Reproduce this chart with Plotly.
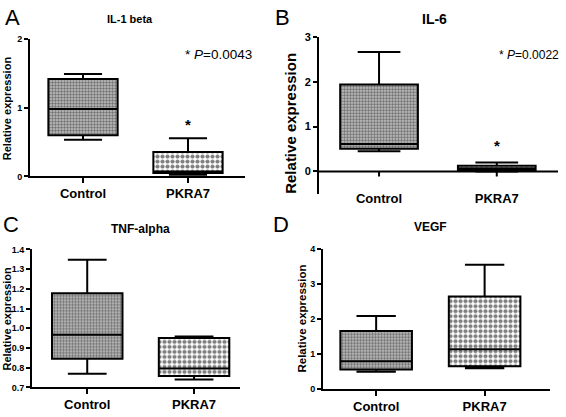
import plotly.graph_objects as go

categories = ["Control", "PKRA7"]

# IL-1 beta
il1_lower = [0.535, 0.025]
il1_q1 = [0.60, 0.05]
il1_median = [0.98, 0.07]
il1_q3 = [1.42, 0.355]
il1_upper = [1.49, 0.555]

# IL-6
il6_lower = [0.45, 0.0]
il6_q1 = [0.505, 0.03]
il6_median = [0.61, 0.07]
il6_q3 = [1.94, 0.13]
il6_upper = [2.66, 0.20]

# TNF-alpha
tnf_lower = [0.769, 0.74]
tnf_q1 = [0.845, 0.758]
tnf_median = [0.967, 0.796]
tnf_q3 = [1.178, 0.950]
tnf_upper = [1.347, 0.958]

# VEGF
vegf_lower = [0.49, 0.59]
vegf_q1 = [0.555, 0.65]
vegf_median = [0.79, 1.13]
vegf_q3 = [1.65, 2.64]
vegf_upper = [2.08, 3.54]

titles = ["IL-1 beta", "IL-6", "TNF-alpha", "VEGF"]
letters = ["A", "B", "C", "D"]
pvals = ["* <i>P</i>=0.0043", "* <i>P</i>=0.0022"]

FONT = "Liberation Sans, Arial, sans-serif"
W, H = 566, 417

panels = [
    dict(lo=il1_lower, q1=il1_q1, md=il1_median, q3=il1_q3, up=il1_upper,
         xd=[30 / W, 245 / W], yd=[1 - 175 / H, 1 - 34 / H], xr=[-0.505, 1.543], yr=[0, 2],
         dtick=1, fmt=None),
    dict(lo=il6_lower, q1=il6_q1, md=il6_median, q3=il6_q3, up=il6_upper,
         xd=[319 / W, 558 / W], yd=[1 - 193 / H, 1 - 31.7 / H], xr=[-0.51, 1.52], yr=[-0.5, 3],
         dtick=1, fmt=None),
    dict(lo=tnf_lower, q1=tnf_q1, md=tnf_median, q3=tnf_q3, up=tnf_upper,
         xd=[32 / W, 240 / W], yd=[1 - 391.7 / H, 1 - 250 / H], xr=[-0.517, 1.43], yr=[0.7, 1.4],
         dtick=0.1, fmt=".1f"),
    dict(lo=vegf_lower, q1=vegf_q1, md=vegf_median, q3=vegf_q3, up=vegf_upper,
         xd=[323 / W, 549.7 / W], yd=[1 - 393.3 / H, 1 - 249.3 / H], xr=[-0.49, 1.60], yr=[0, 4],
         dtick=1, fmt=None),
]

fig = go.Figure()
layout = dict(
    width=W, height=H, margin=dict(l=0, r=0, t=0, b=0),
    paper_bgcolor="white", plot_bgcolor="white",
    showlegend=False, font=dict(family=FONT, color="black"),
)
shapes = []
annotations = []

for i, p in enumerate(panels):
    n = "" if i == 0 else str(i + 1)
    xa, ya = "x" + n, "y" + n
    heights = [b - a for a, b in zip(p["q1"], p["q3"])]
    fig.add_trace(go.Bar(
        x=categories, y=heights, base=p["q1"], width=0.66,
        xaxis=xa, yaxis=ya, hoverinfo="skip",
        marker=dict(
            color="white", line=dict(width=0),
            pattern=dict(shape=[".", "."], size=[3, 5], solidity=[0.55, 0.55],
                         fgcolor=["#1a1a1a", "black"], bgcolor=["#c8c8c8", "white"]),
        ),
    ))
    fig.add_trace(go.Box(
        x=categories, q1=p["q1"], median=p["md"], q3=p["q3"],
        lowerfence=p["lo"], upperfence=p["up"],
        width=0.66, whiskerwidth=0.55, boxpoints=False,
        fillcolor="rgba(0,0,0,0)", line=dict(color="black", width=2),
        xaxis=xa, yaxis=ya, hoverinfo="skip",
    ))
    is_b = (i == 1)
    layout["xaxis" + n] = dict(
        domain=p["xd"], anchor=ya, range=p["xr"], type="category",
        showline=not is_b, linecolor="black", linewidth=2,
        ticks="" if is_b else "outside", ticklen=5, tickwidth=2, tickcolor="black",
        showgrid=False, zeroline=False, fixedrange=True,
        tickfont=dict(size=13, family=FONT, weight="bold"),
        ticklabelstandoff=-5 if is_b else -1,
    )
    layout["yaxis" + n] = dict(
        domain=p["yd"], anchor=xa, range=p["yr"],
        showline=True, linecolor="black", linewidth=2,
        ticks="outside", ticklen=4, tickwidth=2, tickcolor="black",
        dtick=p["dtick"], tick0=0, tickformat=p["fmt"],
        showgrid=False, zeroline=False, fixedrange=True,
        tickfont=dict(size=11 if is_b else 9, family=FONT, weight="bold"),
        ticklabelstandoff=0,
    )
    if is_b:
        shapes.append(dict(type="line", xref="x2 domain", yref="y2", x0=0, x1=1, y0=0, y1=0,
                           line=dict(color="black", width=2)))
        for c in categories:
            shapes.append(dict(type="line", xref="x2", yref="y2", ysizemode="pixel", yanchor=0,
                               x0=c, x1=c, y0=0, y1=-5, line=dict(color="black", width=2)))

# Titles
title_pos = [(130, 13, 11), (434, 13, 14), (140, 229, 12), (430, 227, 12)]
for t, (px, py, fs) in zip(titles, title_pos):
    annotations.append(dict(text=t, x=px / W, y=1 - py / H, xref="paper", yref="paper",
                            showarrow=False, xanchor="center", yanchor="middle",
                            font=dict(size=fs, family=FONT, weight="bold")))
# Panel letters
letter_pos = [(12, 12), (282, 12), (11, 224), (281, 224)]
for t, (px, py) in zip(letters, letter_pos):
    annotations.append(dict(text=t, x=px / W, y=1 - py / H, xref="paper", yref="paper",
                            showarrow=False, xanchor="center", yanchor="middle",
                            font=dict(size=22, family=FONT)))
# Y-axis titles
ytitle_pos = [(7, 105, 11), (291, 121, 15), (7, 321, 11), (302, 321, 11.5)]
for (px, py, fs) in ytitle_pos:
    annotations.append(dict(text="Relative expression", x=px / W, y=1 - py / H,
                            xref="paper", yref="paper", showarrow=False, textangle=-90,
                            xanchor="center", yanchor="middle",
                            font=dict(size=fs, family=FONT, weight="bold")))
# P values
pv_pos = [(218, 50, 13.5), (529, 50, 12)]
for t, (px, py, fs) in zip(pvals, pv_pos):
    annotations.append(dict(text=t, x=px / W, y=1 - py / H, xref="paper", yref="paper",
                            showarrow=False, xanchor="center", yanchor="middle",
                            font=dict(size=fs, family=FONT)))
# Asterisks above PKRA7
annotations.append(dict(text="<b>*</b>", x="PKRA7", y=0.76, xref="x", yref="y",
                        showarrow=False, font=dict(size=15, family=FONT)))
annotations.append(dict(text="<b>*</b>", x="PKRA7", y=0.58, xref="x2", yref="y2",
                        showarrow=False, font=dict(size=15, family=FONT)))

layout["shapes"] = shapes
layout["annotations"] = annotations
fig.update_layout(**layout)
fig.write_html("out.html", config={"displayModeBar": False},
               post_script="document.body.style.margin='0';document.body.style.overflow='hidden';")
